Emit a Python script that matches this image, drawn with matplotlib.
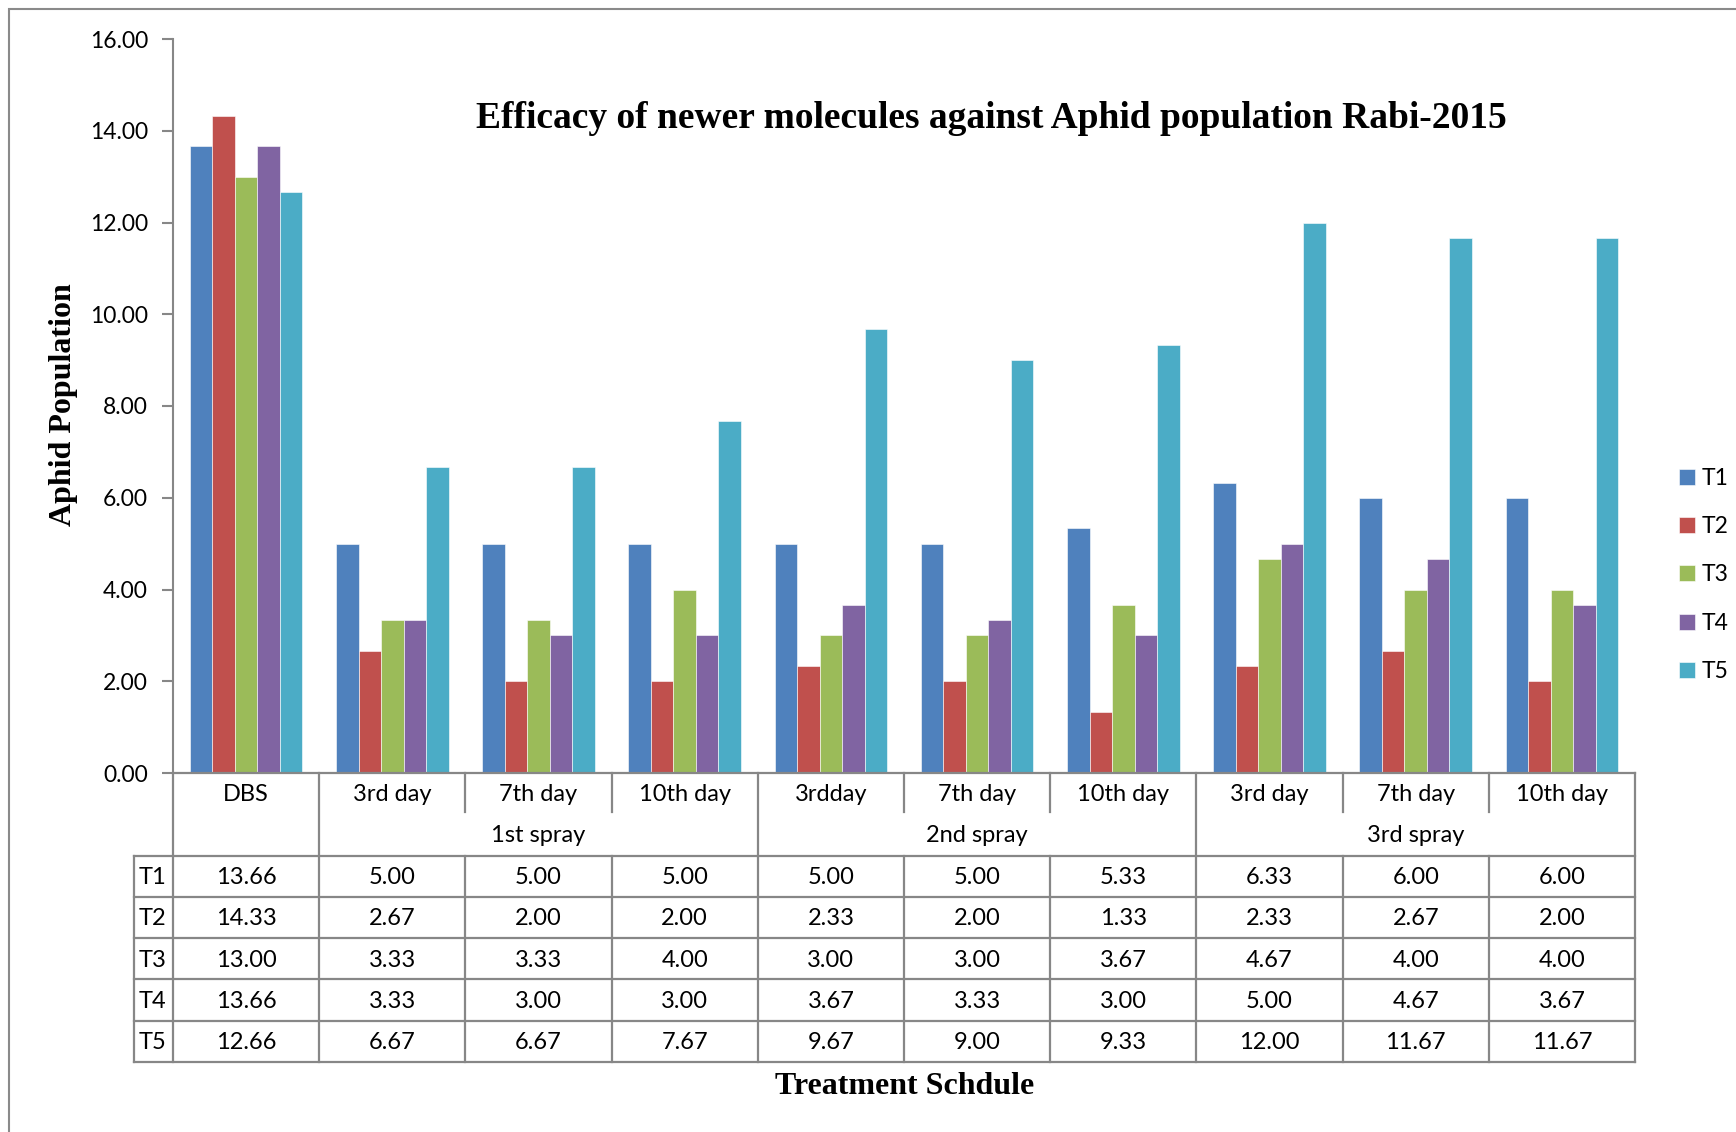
import matplotlib
matplotlib.use("Agg")
import matplotlib.pyplot as plt
from matplotlib.patches import Rectangle
import numpy as np

# ---------------- data ----------------
categories = ["DBS", "3rd day", "7th day", "10th day", "3rdday", "7th day",
              "10th day", "3rd day", "7th day", "10th day"]
groups = ["", "1st spray", "2nd spray", "3rd spray"]
group_spans = [(0, 0), (1, 3), (4, 6), (7, 9)]
series_names = ["T1", "T2", "T3", "T4", "T5"]
T1 = [13.66, 5.00, 5.00, 5.00, 5.00, 5.00, 5.33, 6.33, 6.00, 6.00]
T2 = [14.33, 2.67, 2.00, 2.00, 2.33, 2.00, 1.33, 2.33, 2.67, 2.00]
T3 = [13.00, 3.33, 3.33, 4.00, 3.00, 3.00, 3.67, 4.67, 4.00, 4.00]
T4 = [13.66, 3.33, 3.00, 3.00, 3.67, 3.33, 3.00, 5.00, 4.67, 3.67]
T5 = [12.66, 6.67, 6.67, 7.67, 9.67, 9.00, 9.33, 12.00, 11.67, 11.67]
series = [T1, T2, T3, T4, T5]
colors = ["#4F81BD", "#C0504D", "#9BBB59", "#8064A2", "#4BACC6"]
yticks = [0, 2, 4, 6, 8, 10, 12, 14, 16]
title = "Efficacy of newer molecules against Aphid population Rabi-2015"
ylabel = "Aphid Population"
xlabel = "Treatment Schdule"

# ---------------- layout ----------------
W, H = 1736, 1132
fig = plt.figure(figsize=(W / 100, H / 100), dpi=100)
fig.patch.set_facecolor("white")

def fx(px):
    return px / W

def fy(py):
    return 1 - py / H

ax_left, ax_right = 173, 1635
ax_top, ax_bot = 39, 773
tab_bot = 1062
grid_col = "#878787"
sans = ["Lato", "DejaVu Sans"]
serif = ["Liberation Serif", "DejaVu Serif"]
fs = 16.5
tfs = 17

# outer border
fig.add_artist(Rectangle((fx(9), fy(1200)), fx(1800), (1200 - 9) / H,
                         transform=fig.transFigure, fill=False,
                         edgecolor="#8a8a8a", linewidth=1.5))

ax = fig.add_axes([fx(ax_left), fy(ax_bot), fx(ax_right - ax_left),
                   (ax_bot - ax_top) / H])
n = len(categories)
nser = len(series)
bw = 1 / 6.5
x = np.arange(n)
handles = []
for i, (vals, c) in enumerate(zip(series, colors)):
    off = (i - (nser - 1) / 2) * bw
    b = ax.bar(x + off, vals, width=bw, color=c, edgecolor="white",
               linewidth=0.4, label=series_names[i])
    handles.append(b)
ax.set_xlim(-0.5, n - 0.5)
ax.set_ylim(0, 16)
ax.set_yticks(yticks)
ax.set_yticklabels([f"{v:.2f}" for v in yticks], fontfamily=sans, fontsize=fs)
ax.set_xticks([])
for s in ["top", "right", "bottom"]:
    ax.spines[s].set_visible(False)
ax.spines["left"].set_color(grid_col)
ax.spines["left"].set_linewidth(1.5)
ax.tick_params(axis="y", direction="out", length=8, width=1.5,
               color=grid_col, pad=10)

# ---------------- table ----------------
tab = fig.add_axes([fx(ax_left), fy(tab_bot), fx(ax_right - ax_left),
                    (tab_bot - ax_bot) / H])
tab.set_xlim(-0.5, n - 0.5)
tab.set_ylim(7, 0)
tab.axis("off")
lw = 1.6
lab_x = -0.765
kw = dict(color=grid_col, linewidth=lw, clip_on=False, solid_capstyle="projecting")
# horizontal lines
tab.plot([-0.5, n - 0.5], [0, 0], **kw)
for r in range(2, 8):
    tab.plot([lab_x, n - 0.5], [r, r], **kw)
# vertical lines
tab.plot([lab_x, lab_x], [2, 7], **kw)
for b in range(n + 1):
    xb = b - 0.5
    is_group_edge = any(xb == s - 0.5 for s, e in group_spans) or xb == n - 0.5
    if is_group_edge:
        tab.plot([xb, xb], [0, 7], **kw)
    else:
        tab.plot([xb, xb], [0, 0.95], **kw)
        tab.plot([xb, xb], [2, 7], **kw)
# text
for j, cat in enumerate(categories):
    tab.text(j, 0.52, cat, ha="center", va="center", fontsize=tfs, fontfamily=sans)
for g, (s, e) in zip(groups, group_spans):
    tab.text((s + e) / 2, 1.52, g, ha="center", va="center", fontsize=tfs,
             fontfamily=sans)
for i, (name, vals) in enumerate(zip(series_names, series)):
    r = 2.53 + i
    tab.text(lab_x + 0.03, r, name, ha="left", va="center", fontsize=tfs,
             fontfamily=sans)
    for j, v in enumerate(vals):
        tab.text(j, r, f"{v:.2f}", ha="center", va="center", fontsize=tfs,
                 fontfamily=sans)

# ---------------- titles ----------------
fig.text(fx(991), fy(119), title, ha="center", va="center", fontsize=27,
         fontweight="bold", fontfamily=serif)
fig.text(fx(63), fy(405), ylabel, ha="center", va="center", rotation=90,
         fontsize=23, fontweight="bold", fontfamily=serif)
fig.text(fx(905), fy(1086), xlabel, ha="center", va="center", fontsize=23,
         fontweight="bold", fontfamily=serif)

# ---------------- legend ----------------
leg = fig.legend(handles=handles, labels=series_names, loc="center left",
                 bbox_to_anchor=(fx(1679), fy(575)), frameon=False,
                 prop={"family": sans, "size": fs}, handlelength=0.7,
                 handleheight=0.7, handletextpad=0.3, labelspacing=1.19,
                 borderaxespad=0, borderpad=0)

fig.savefig("out.png", dpi=100, facecolor="white")
